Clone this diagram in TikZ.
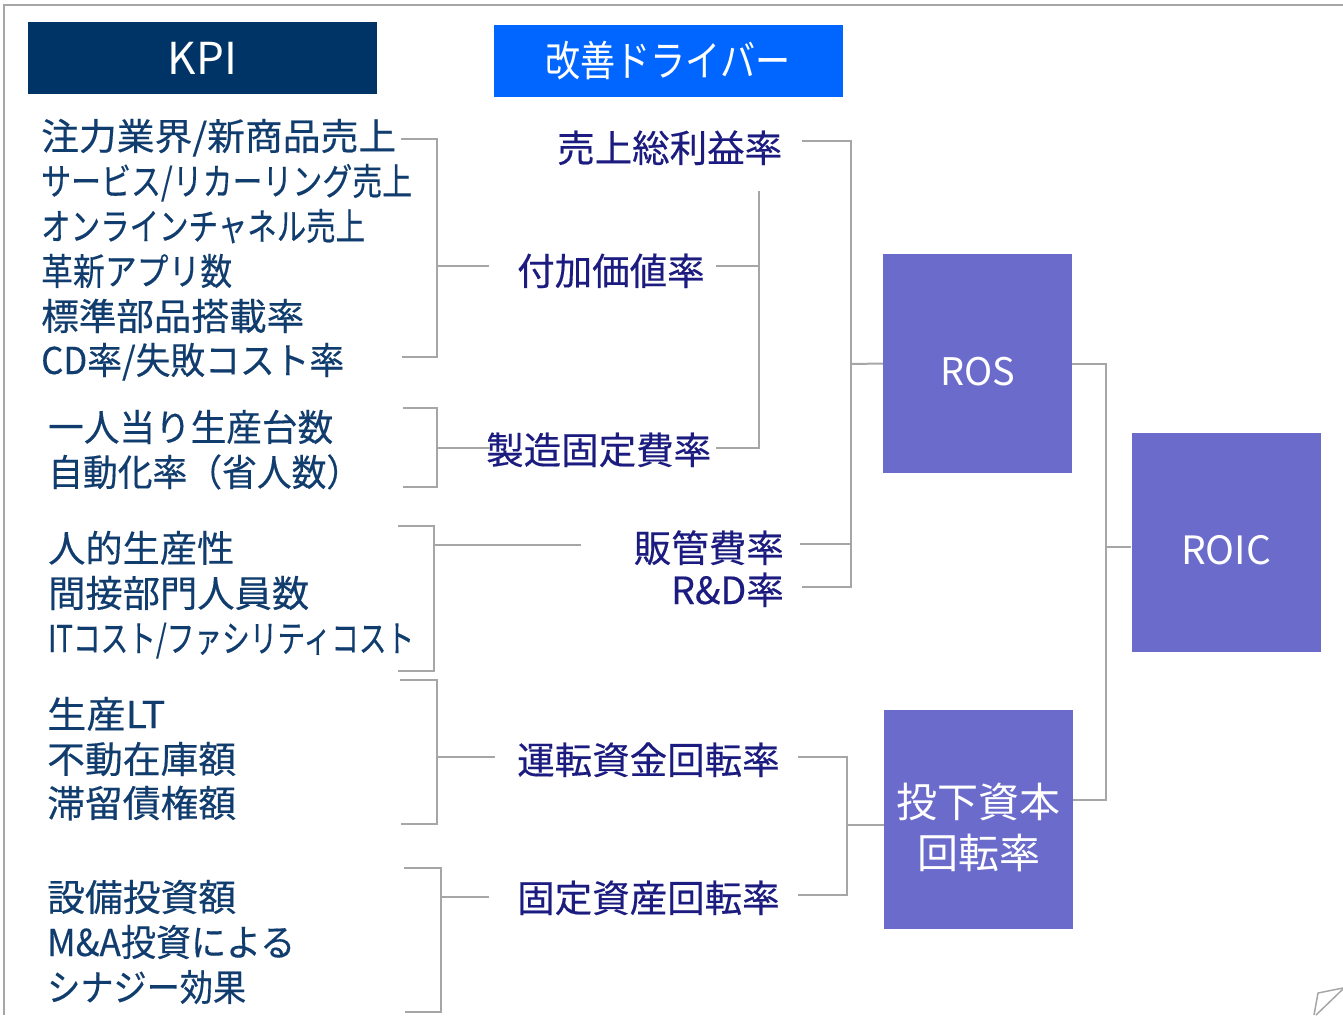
\documentclass[tikz,border=0pt]{standalone}
\usepackage{fontspec}
\usepackage{graphicx}
\setmainfont{Noto Sans CJK JP}
\newfontfamily\jpbold{Noto Sans CJK JP}[FakeBold=0.35]
\definecolor{kpitext}{HTML}{103C6E}
\definecolor{drvtext}{HTML}{1C1C80}
\definecolor{kpihead}{HTML}{003366}
\definecolor{drvhead}{HTML}{0066FF}
\definecolor{boxpurple}{HTML}{6B6BCC}
\definecolor{lgray}{HTML}{A6A6A6}
\newcommand\fitw[2]{\resizebox{#1pt}{\height}{#2}}
\tikzset{
  ln/.style={draw=lgray, line width=2pt},
  kpit/.style={anchor=base west, inner sep=0pt, text=kpitext, font=\jpbold\fontsize{37}{44}\selectfont},
  drvt/.style={anchor=base west, inner sep=0pt, text=drvtext, font=\jpbold\fontsize{37.5}{44}\selectfont},
  headbox/.style={minimum width=349pt, minimum height=72pt, inner sep=0pt, text=white},
  bigbox/.style={fill=boxpurple, text=white, minimum width=189pt, minimum height=219pt, inner sep=0pt},
}
\begin{document}
\begin{tikzpicture}[x=1pt,y=-1pt]
\useasboundingbox (0,0) rectangle (1343,1015);
% frame
\draw[ln] (1343,5) -- (4,5) -- (4,1015);
\draw[ln, line width=1.5pt, line join=round] (1314,1015) -- (1318,993) -- (1343,988);
\draw[ln, line width=1.5pt] (1343,989) -- (1316,1015);
% headers
\node[headbox, fill=kpihead, font=\fontsize{44}{50}\selectfont] (kpi) at (202.5,58) {KPI};
\node[headbox, fill=drvhead, font=\fontsize{42}{50}\selectfont] (drv) at (668,60.5) {\fitw{245}{改善ドライバー}};
% KPI group 1
\node[kpit] (k11) at (41,150) {\fitw{355}{注力業界/新商品売上}};
\node[kpit] (k12) at (41,195) {\fitw{371}{サービス/リカーリング売上}};
\node[kpit] (k13) at (41,240) {\fitw{324}{オンラインチャネル売上}};
\node[kpit] (k14) at (41,285) {\fitw{191}{革新アプリ数}};
\node[kpit] (k15) at (41,330) {\fitw{263}{標準部品搭載率}};
\node[kpit] (k16) at (41,374) {\fitw{303}{CD率/失敗コスト率}};
% KPI group 2
\node[kpit] (k21) at (48,441) {\fitw{285}{一人当り生産台数}};
\node[kpit] (k22) at (48,486) {\fitw{313}{自動化率（省人数）}};
% KPI group 3
\node[kpit] (k31) at (48,562) {\fitw{186}{人的生産性}};
\node[kpit] (k32) at (48,607) {\fitw{261}{間接部門人員数}};
\node[kpit] (k33) at (48,652) {\fitw{366}{ITコスト/ファシリティコスト}};
% KPI group 4
\node[kpit] (k41) at (47,728) {\fitw{118}{生産LT}};
\node[kpit] (k42) at (47,773) {\fitw{189}{不動在庫額}};
\node[kpit] (k43) at (47,817) {\fitw{189}{滞留債権額}};
% KPI group 5
\node[kpit] (k51) at (47,911) {\fitw{189}{設備投資額}};
\node[kpit] (k52) at (47,956) {\fitw{248}{M\&A投資による}};
\node[kpit] (k53) at (47,1001) {\fitw{199}{シナジー効果}};
% drivers
\node[drvt] (d1) at (557,162) {売上総利益率};
\node[drvt] (d2) at (517,285) {付加価値率};
\node[drvt] (d3) at (486,464) {製造固定費率};
\node[drvt, anchor=base east] (d4) at (784,562) {販管費率};
\node[drvt, anchor=base east] (d5) at (784,604) {R\&D率};
\node[drvt] (d6) at (517,774) {運転資金回転率};
\node[drvt] (d7) at (517,912) {固定資産回転率};
% big boxes
\node[bigbox, font=\fontsize{38}{44}\selectfont, text height=44pt] (ros) at (977.5,363.5) {ROS};
\node[bigbox, font=\fontsize{39}{44}\selectfont, text height=44pt] (roic) at (1226,542.5) {ROIC};
\node[bigbox] (toka) at (978.5,819.5) {};
\node[text=white, inner sep=0pt, font=\fontsize{41}{51}\selectfont, align=center] (tokat) at (978.5,827) {投下資本\\回転率};
% bracket coordinates
\coordinate (g1t) at (401,139); \coordinate (g1b) at (402,357); \coordinate (g1m) at (437,266); \coordinate (g1e) at (489,266);
\coordinate (g2t) at (403,408); \coordinate (g2b) at (403,487); \coordinate (g2m) at (437,448); \coordinate (g2e) at (490,448);
\coordinate (g3t) at (398,526); \coordinate (g3b) at (398,671); \coordinate (g3m) at (434,545); \coordinate (g3e) at (581,545);
\coordinate (g4t) at (400,680); \coordinate (g4b) at (401,824); \coordinate (g4m) at (437,757); \coordinate (g4e) at (495,757);
\coordinate (g5t) at (404,868); \coordinate (g5b) at (405,1012); \coordinate (g5m) at (441,897); \coordinate (g5e) at (489,897);
% KPI brackets
\draw[ln] (g1t) -- (g1t -| g1m) -- (g1b -| g1m) -- (g1b);
\draw[ln] (g1m) -- (g1e);
\draw[ln] (g2t) -- (g2t -| g2m) -- (g2b -| g2m) -- (g2b);
\draw[ln] (g2m) -- (g2e);
\draw[ln] (g3t) -- (g3t -| g3m) -- (g3b -| g3m) -- (g3b);
\draw[ln] (g3m) -- (g3e);
\draw[ln] (g4t) -- (g4t -| g4m) -- (g4b -| g4m) -- (g4b);
\draw[ln] (g4m) -- (g4e);
\draw[ln] (g5t) -- (g5t -| g5m) -- (g5b -| g5m) -- (g5b);
\draw[ln] (g5m) -- (g5e);
% driver side coordinates
\coordinate (r1) at (802,141); \coordinate (r4) at (800,544); \coordinate (r5) at (802,587);
\coordinate (vA) at (851,364);
\coordinate (s2) at (716,266); \coordinate (s3) at (716,448); \coordinate (vB) at (759,191);
\coordinate (r6) at (798,757); \coordinate (r7) at (798,895); \coordinate (vC) at (847,825);
\coordinate (vD) at (1106,547); \coordinate (tokaR) at (1073,800); \coordinate (tokaL) at (884,825);
% ROS tree
\draw[ln] (r1) -- (r1 -| vA) -- (r5 -| vA) -- (r5);
\draw[ln] (r4) -- (r4 -| vA);
\draw[ln] (vA) -- (ros.west);
% value-added branch
\draw[ln] (s2) -- (s2 -| vB);
\draw[ln] (vB) -- (s3 -| vB) -- (s3);
% turnover tree
\draw[ln] (r6) -- (r6 -| vC) -- (r7 -| vC) -- (r7);
\draw[ln] (vC) -- (tokaL);
% ROIC tree
\draw[ln] (ros.east) -- (ros.east -| vD) -- (tokaR -| vD) -- (tokaR);
\draw[ln] (vD) -- (vD -| roic.west);
\end{tikzpicture}
\end{document}
